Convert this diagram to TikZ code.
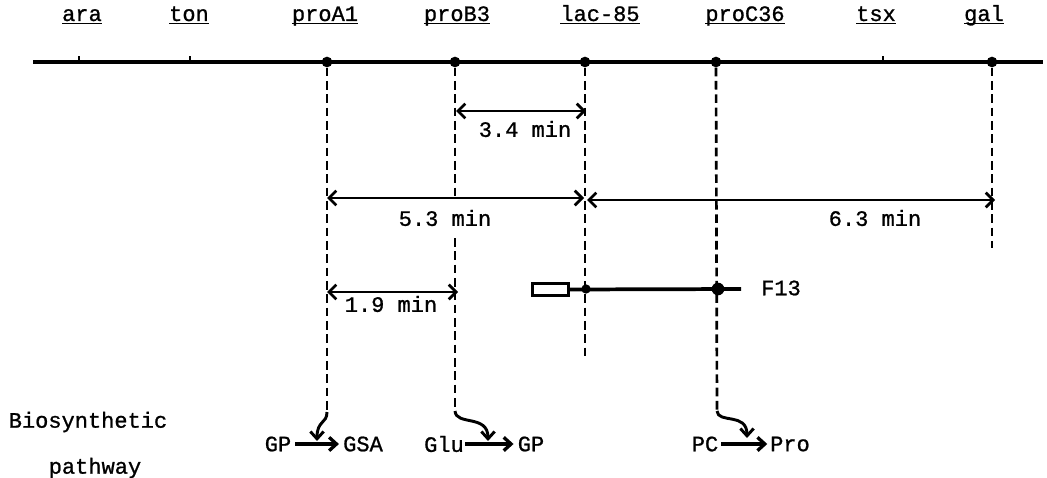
\documentclass[tikz,border=0pt]{standalone}
\usepackage{fontspec}
\newfontfamily\cour[FakeBold=1]{Liberation Mono}
\usetikzlibrary{arrows.meta}
\newcommand{\ulab}[1]{\setbox0\hbox{#1}\rlap{\rule[-2.6pt]{\wd0}{1.3pt}}\box0}
\begin{document}
\begin{tikzpicture}[x=0.75pt,y=-0.75pt,
  lbl/.style={font=\cour\fontsize{16.5}{19}\selectfont, inner sep=0},
  chrom/.style={line width=3.2pt},
  gdot/.style={circle,fill,inner sep=0,minimum size=8pt},
  drop/.style={dash pattern=on 6.5pt off 3.5pt, line width=2pt},
  dim/.style={{Straight Barb[length=5.5pt,width=11pt]}-{Straight Barb[length=5.5pt,width=11pt]}, line width=2pt},
  parrow/.style={-{Straight Barb[length=5.5pt,width=10pt]}, line width=2.5pt},
  curvarrow/.style={-{Straight Barb[length=5.5pt,width=10pt]}, line width=2.2pt},
]
\useasboundingbox (0,0) rectangle (1047,478);

% chromosome
\coordinate (chrL) at (33,62);
\coordinate (chrR) at (1043,62);
\draw[chrom] (chrL) -- (chrR);

% ticks
\coordinate (tA) at (79,62);  \coordinate (tA2) at (79,56);
\coordinate (tT) at (190,62); \coordinate (tT2) at (190,56);
\coordinate (tX) at (883,62); \coordinate (tX2) at (883,56);
\draw[line width=1.4pt] (tA) -- (tA2) (tT) -- (tT2) (tX) -- (tX2);

% gene dots
\node[gdot] (dA) at (327,62) {};
\node[gdot] (dB) at (455,62) {};
\node[gdot] (dL) at (585,62) {};
\node[gdot] (dC) at (716,62) {};
\node[gdot] (dG) at (992,62) {};

% labels
\node[lbl, anchor=base] (lara) at (82,21) {\ulab{ara}};
\node[lbl, anchor=base] (lton) at (189,21) {\ulab{ton}};
\node[lbl, anchor=base] (lproA) at (325,21) {\ulab{proA1}};
\node[lbl, anchor=base] (lproB) at (457,21) {\ulab{proB3}};
\node[lbl, anchor=base] (llac) at (600,21) {\ulab{lac-85}};
\node[lbl, anchor=base] (lproC) at (745,21) {\ulab{proC36}};
\node[lbl, anchor=base] (ltsx) at (876,21) {\ulab{tsx}};
\node[lbl, anchor=base] (lgal) at (984,21) {\ulab{gal}};

% dashed drops
\coordinate (eA) at (327,412);
\coordinate (eB1) at (455,198);
\coordinate (eB2) at (455,238);
\coordinate (eB) at (455,411);
\coordinate (eL) at (585,357);
\coordinate (eC) at (717,411);
\coordinate (eG) at (992,248);
\draw[drop] (dA) -- (eA);
\draw[drop] (dB) -- (eB1);
\draw[drop] (eB2) -- (eB);
\draw[drop] (dL) -- (eL);
\draw[drop] (dC) -- (eC);
\draw[drop] (dG) -- (eG);

% distance arrows
\coordinate (a1l) at (456,111); \coordinate (a1r) at (586,111);
\draw[dim] (a1l) -- (a1r);
\node[lbl] (t34) at (525,129) {3.4 min};

\coordinate (a2l) at (327,198); \coordinate (a2r) at (584,198);
\draw[dim] (a2l) -- (a2r);
\node[lbl] (t53) at (445,218) {5.3 min};

\coordinate (a3l) at (587,200); \coordinate (a3r) at (995,200);
\draw[dim] (a3l) -- (a3r);
\node[lbl] (t63) at (875,218) {6.3 min};

\coordinate (a4l) at (327,292); \coordinate (a4r) at (458,292);
\draw[dim] (a4l) -- (a4r);
\node[lbl] (t19) at (391,304) {1.9 min};

% F13 episome
\node[draw, line width=1.6pt, minimum width=27pt, minimum height=9pt, inner sep=0] (frect) at (550.5,289.5) {};
\coordinate (fend) at (741,289);
\draw[line width=2.8pt] (frect.east) -- (fend);
\node[gdot, minimum size=7pt] (fd1) at (586,289) {};
\node[gdot, minimum size=9.5pt] (fd2) at (718,289) {};
\node[lbl] (f13) at (781,288) {F13};

% pathway
\node[lbl] (bio) at (88,422) {Biosynthetic};
\node[lbl] (pw) at (95,468) {pathway};

\node[lbl] (gp1) at (278,444) {GP};
\node[lbl] (gsa) at (363,444) {GSA};
\draw[parrow] ([xshift=3pt]gp1.east) -- ([xshift=-3pt]gsa.west);

\node[lbl] (glu) at (444,444) {Glu};
\node[lbl] (gp2) at (531,444) {GP};
\draw[parrow] ([xshift=1pt]glu.east) -- ([xshift=-3pt]gp2.west);

\node[lbl] (pc) at (705,444) {PC};
\node[lbl] (pro) at (790,444) {Pro};
\draw[parrow] ([xshift=2pt]pc.east) -- ([xshift=-2pt]pro.west);

\coordinate (kA) at (317,441);
\coordinate (kB) at (488,441);
\coordinate (kC) at (747,438);
\draw[curvarrow] (eA) .. controls (327,424) and (317,420) .. (kA);
\draw[curvarrow] (eB) .. controls (456,426) and (488,414) .. (kB);
\draw[curvarrow] (eC) .. controls (718,424) and (747,412) .. (kC);
\end{tikzpicture}
\end{document}
